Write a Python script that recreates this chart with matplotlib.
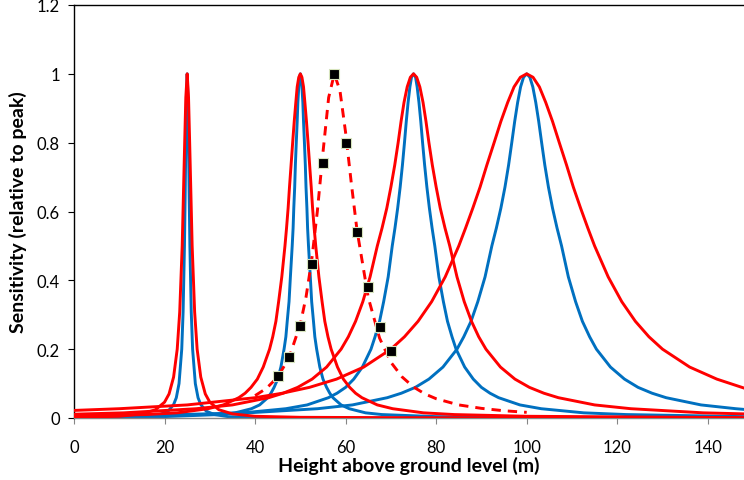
import matplotlib
matplotlib.use("Agg")
import matplotlib.pyplot as plt
from matplotlib.ticker import FuncFormatter

plt.rcParams["font.family"] = ["Lato", "DejaVu Sans"]

RED = "#FF0000"
BLUE = "#0070C0"

# Sensitivity curves (x = height in m, y = relative sensitivity)
red25_x = [0, 10, 15, 18, 20, 21, 22, 22.8, 23.35, 23.9, 24.45, 24.7, 25,
           25.3, 25.55, 26.1, 26.65, 27.2, 28, 29, 30, 32, 35, 40, 50, 70, 100, 148]
red25_y = [0.002, 0.005, 0.012, 0.024, 0.046, 0.070, 0.119, 0.200, 0.308, 0.500, 0.800, 0.931, 1.0,
           0.931, 0.800, 0.500, 0.308, 0.200, 0.119, 0.070, 0.046, 0.024, 0.012, 0.005, 0.002, 0.001, 0.0, 0.0]

blue25_x = [0, 10, 16, 19, 20.8, 22, 22.6, 23.2, 23.8, 24.1, 24.4, 24.55, 24.7, 24.85, 25,
            25.15, 25.3, 25.45, 25.6, 25.9, 26.2, 26.8, 27.4, 28, 29.2, 31, 34, 40, 60, 148]
blue25_y = [0.001, 0.002, 0.004, 0.010, 0.020, 0.039, 0.059, 0.100, 0.200, 0.308, 0.500, 0.640, 0.800, 0.941, 1.0,
            0.941, 0.800, 0.640, 0.500, 0.308, 0.200, 0.100, 0.059, 0.039, 0.020, 0.010, 0.004, 0.002, 0.0, 0.0]

red50_x = [0, 16, 22.8, 29.6, 33, 36.4, 37.8, 39.1, 40.5, 41.8, 43.2, 43.9, 44.6, 45.2, 45.9,
           46.6, 46.95, 47.3, 47.6, 47.95, 48.3, 48.65, 49.0, 49.3, 49.65, 50,
           50.35, 50.7, 51.0, 51.35, 51.7, 52.05, 52.4, 52.7, 53.05, 53.4,
           54.1, 54.8, 55.4, 56.1, 56.8, 58.2, 59.5, 60.9, 62.2, 63.6, 67, 70.4, 77.2, 84, 100, 148]
red50_y = [0.005, 0.010, 0.015, 0.027, 0.038, 0.059, 0.072, 0.089, 0.113, 0.148, 0.200, 0.236, 0.281, 0.338, 0.410,
           0.500, 0.552, 0.610, 0.671, 0.735, 0.800, 0.862, 0.917, 0.962, 0.990, 1.0,
           0.990, 0.962, 0.917, 0.862, 0.800, 0.735, 0.671, 0.610, 0.552, 0.500,
           0.410, 0.338, 0.281, 0.236, 0.200, 0.148, 0.113, 0.089, 0.072, 0.059, 0.038, 0.027, 0.015, 0.010, 0.005, 0.001]

blue50_x = [0, 20, 32, 35.6, 39.2, 41, 42.8, 43.5, 44.2, 45.0, 45.7, 46.4, 46.8, 47.1, 47.5, 47.8,
            48.2, 48.4, 48.55, 48.75, 48.9, 49.1, 49.3, 49.45, 49.65, 49.8, 50,
            50.2, 50.35, 50.55, 50.7, 50.9, 51.1, 51.25, 51.45, 51.6, 51.8,
            52.2, 52.5, 52.9, 53.2, 53.6, 54.3, 55.0, 55.8, 56.5, 57.2, 59, 60.8, 64.4, 68, 80, 100, 148]
blue50_y = [0.001, 0.004, 0.010, 0.015, 0.027, 0.038, 0.059, 0.072, 0.089, 0.113, 0.148, 0.200, 0.236, 0.281, 0.338, 0.410,
            0.500, 0.552, 0.610, 0.671, 0.735, 0.800, 0.862, 0.917, 0.962, 0.990, 1.0,
            0.990, 0.962, 0.917, 0.862, 0.800, 0.735, 0.671, 0.610, 0.552, 0.500,
            0.410, 0.338, 0.281, 0.236, 0.200, 0.148, 0.113, 0.089, 0.072, 0.059, 0.038, 0.027, 0.015, 0.010, 0.004, 0.001, 0.0]

red75_x = [0, 11, 27, 35, 43, 46.2, 49.4, 52.6, 55.8, 59, 60.6, 62.2, 63.8, 65.4,
           67.0, 68.05, 69.1, 70.0, 70.85, 71.6, 72.25, 72.9, 73.6, 74.3, 75,
           75.7, 76.4, 77.1, 77.75, 78.4, 79.15, 80.0, 80.9, 81.95, 83.0,
           84.6, 86.2, 87.8, 89.4, 91, 94.2, 97.4, 100.6, 103.8, 107, 115, 123, 139, 148]
red75_y = [0.011, 0.015, 0.027, 0.038, 0.059, 0.072, 0.089, 0.113, 0.148, 0.200, 0.236, 0.281, 0.338, 0.410,
           0.500, 0.552, 0.610, 0.671, 0.735, 0.800, 0.862, 0.917, 0.962, 0.990, 1.0,
           0.990, 0.962, 0.917, 0.862, 0.800, 0.735, 0.671, 0.610, 0.552, 0.500,
           0.410, 0.338, 0.281, 0.236, 0.200, 0.148, 0.113, 0.089, 0.072, 0.059, 0.038, 0.027, 0.015, 0.012]

blue75_x = [0, 28, 37.4, 46.8, 51.5, 56.2, 58.1, 60.0, 61.8, 63.7, 65.6, 66.5, 67.5, 68.4, 69.4,
            70.3, 70.9, 71.5, 72.05, 72.55, 73.0, 73.4, 73.8, 74.2, 74.55, 75,
            75.45, 75.8, 76.2, 76.6, 77.0, 77.45, 77.95, 78.5, 79.1, 79.7,
            80.6, 81.6, 82.5, 83.5, 84.4, 86.3, 88.2, 90.0, 91.9, 93.8, 98.5, 103.2, 112.6, 122, 148]
blue75_y = [0.004, 0.010, 0.015, 0.027, 0.038, 0.059, 0.072, 0.089, 0.113, 0.148, 0.200, 0.236, 0.281, 0.338, 0.410,
            0.500, 0.552, 0.610, 0.671, 0.735, 0.800, 0.862, 0.917, 0.962, 0.990, 1.0,
            0.990, 0.962, 0.917, 0.862, 0.800, 0.735, 0.671, 0.610, 0.552, 0.500,
            0.410, 0.338, 0.281, 0.236, 0.200, 0.148, 0.113, 0.089, 0.072, 0.059, 0.038, 0.027, 0.015, 0.010, 0.004]

red100_x = [0, 10, 25, 40, 46, 52, 58, 64, 70, 73, 76, 79, 82,
            85, 86.5, 88.1, 89.7, 91.2, 92.8, 94.3, 95.8, 97.2, 98.6, 100,
            101.4, 102.8, 104.2, 105.7, 107.2, 108.8, 110.3, 111.9, 113.5, 115,
            118, 121, 124, 127, 130, 136, 142, 148]
red100_y = [0.022, 0.027, 0.038, 0.059, 0.072, 0.089, 0.113, 0.148, 0.200, 0.236, 0.281, 0.338, 0.410,
            0.500, 0.552, 0.610, 0.671, 0.735, 0.800, 0.862, 0.917, 0.962, 0.990, 1.0,
            0.990, 0.962, 0.917, 0.862, 0.800, 0.735, 0.671, 0.610, 0.552, 0.500,
            0.410, 0.338, 0.281, 0.236, 0.200, 0.148, 0.113, 0.087]

blue100_x = [0, 23, 38.4, 53.8, 61.5, 69.2, 72.3, 75.4, 78.4, 81.5, 84.6, 86.1, 87.7, 89.2, 90.8,
             92.3, 93.3, 94.3, 95.2, 96.0, 96.7, 97.35, 98.0, 98.65, 99.3, 100,
             100.7, 101.35, 102.0, 102.65, 103.3, 104.0, 104.8, 105.7, 106.7, 107.7,
             109.2, 110.8, 112.3, 113.9, 115.4, 118.5, 121.6, 124.6, 127.7, 130.8, 138.5, 146.2, 148]
blue100_y = [0.006, 0.010, 0.015, 0.027, 0.038, 0.059, 0.072, 0.089, 0.113, 0.148, 0.200, 0.236, 0.281, 0.338, 0.410,
             0.500, 0.552, 0.610, 0.671, 0.735, 0.800, 0.862, 0.917, 0.962, 0.990, 1.0,
             0.990, 0.962, 0.917, 0.862, 0.800, 0.735, 0.671, 0.610, 0.552, 0.500,
             0.410, 0.338, 0.281, 0.236, 0.200, 0.148, 0.113, 0.089, 0.072, 0.059, 0.038, 0.027, 0.025]

# dashed fit through the measured points
fit_x = [40, 42.5, 45, 47.5, 50, 51.25, 52.5, 53.75, 55, 56.25, 57.5,
         58.75, 60, 61.25, 62.5, 65, 67.5, 70, 72.5, 75, 77.5, 80, 85, 90, 95, 100]
fit_y = [0.065, 0.086, 0.119, 0.175, 0.273, 0.351, 0.458, 0.600, 0.772, 0.931, 1.0,
         0.951, 0.829, 0.683, 0.547, 0.350, 0.232, 0.162, 0.119, 0.090, 0.070, 0.056, 0.038, 0.028, 0.021, 0.0165]

# measured points (black squares)
meas_x = [45, 47.5, 50, 52.5, 55, 57.5, 60, 62.5, 65, 67.5, 70]
meas_y = [0.123, 0.178, 0.268, 0.448, 0.740, 1.0, 0.798, 0.539, 0.382, 0.264, 0.195]

blue_curves = [(blue25_x, blue25_y), (blue50_x, blue50_y), (blue75_x, blue75_y), (blue100_x, blue100_y)]
red_curves = [(red25_x, red25_y), (red50_x, red50_y), (red75_x, red75_y), (red100_x, red100_y)]

fig = plt.figure(figsize=(7.44, 4.81), dpi=100)
ax = fig.add_axes([74 / 744, 62 / 481, 670 / 744, 413 / 481])

for xs, ys in blue_curves:
    ax.plot(xs, ys, color=BLUE, linewidth=2.1, solid_joinstyle="round", zorder=2)
for xs, ys in red_curves:
    ax.plot(xs, ys, color=RED, linewidth=2.1, solid_joinstyle="round", zorder=3)

ax.plot(fit_x, fit_y, color=RED, linewidth=2.1, linestyle=(0, (3.2, 2.4)), zorder=4)
ax.plot(meas_x, meas_y, linestyle="none", marker="s", markersize=6.5,
        markerfacecolor="black", markeredgecolor="#D7E4BD", markeredgewidth=0.8, zorder=5)

ax.set_xlim(0, 148)
ax.set_ylim(0, 1.2)
ax.set_xticks(range(0, 141, 20))
ax.set_yticks([0, 0.2, 0.4, 0.6, 0.8, 1.0, 1.2])
ax.yaxis.set_major_formatter(FuncFormatter(lambda v, p: f"{v:g}"))

ax.spines["right"].set_visible(False)
ax.spines["top"].set_color("black")
ax.spines["left"].set_color("black")
ax.spines["bottom"].set_color("#868686")
for s in ax.spines.values():
    s.set_linewidth(1.0)

ax.tick_params(axis="x", direction="out", length=4, color="#868686", pad=11, labelsize=12)
ax.tick_params(axis="y", direction="out", length=4, color="black", pad=6, labelsize=12)

ax.set_xlabel("Height above ground level (m)", fontsize=14, fontweight="bold", labelpad=1)
ax.set_ylabel("Sensitivity (relative to peak)", fontsize=14, fontweight="bold", labelpad=7)

fig.savefig("out.png", dpi=100)
